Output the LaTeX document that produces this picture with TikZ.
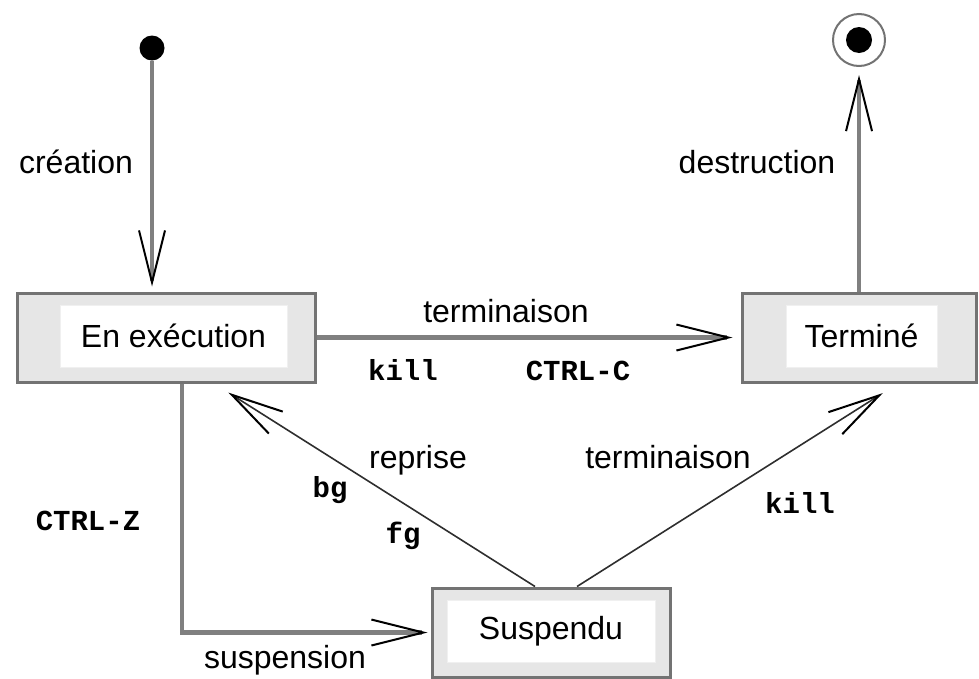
\documentclass[tikz,border=0pt]{standalone}
\usepackage{fontspec}
\setmainfont{Liberation Sans}
\setmonofont{Liberation Mono}
\usetikzlibrary{arrows.meta}
\definecolor{boxgray}{HTML}{E6E6E6}
\definecolor{edgegray}{HTML}{737373}
\definecolor{linegray}{HTML}{808080}
\definecolor{diaggray}{HTML}{2E2E2E}

\begin{document}
\begin{tikzpicture}[x=1pt,y=-1pt,font=\fontsize{32}{38}\selectfont,
  etat/.style={draw=edgegray,fill=boxgray,line width=3pt,minimum height=89pt},
  etiq/.style={fill=white,draw=white!94!black,line width=1pt,minimum height=62pt,inner sep=0pt},
  lab/.style={anchor=base},
  code/.style={anchor=base,font=\fontsize{29}{34}\selectfont\ttfamily\bfseries},
  barb/.style={-{Straight Barb[length=52pt,width=26pt,line width=2pt,color=black]}},
  fleche/.style={draw=linegray,line width=4.5pt,barb},
  fine/.style={draw=diaggray,line width=1.6pt,barb}]
\useasboundingbox (0,0) rectangle (979,678);
\node[circle,fill=black,inner sep=0pt,minimum size=25pt] (debut) at (152,48) {};
\node[circle,draw=edgegray,line width=2pt,inner sep=0pt,minimum size=52pt] (fin) at (859,40) {};
\node[circle,fill=black,inner sep=0pt,minimum size=26pt] (finin) at (fin) {};
\node[etat,minimum width=298pt] (exec) at (166,337.5) {};
\node[etiq,minimum width=227pt] (execnom) at (173.5,336) {En exécution};
\node[etat,minimum width=234pt] (term) at (859,337.5) {};
\node[etiq,minimum width=151pt] (termnom) at (861.5,336) {Terminé};
\node[etat,minimum width=238pt] (susp) at (551,632.5) {};
\node[etiq,minimum width=208pt] (suspnom) at (551,631) {Suspendu};
\draw[fleche,shorten >=5pt] (debut) -- (debut |- exec.north);
\draw[fleche,shorten >=8pt] (exec.east) -- (term.west);
\draw[fleche,shorten >=8pt] (term.north) -- (fin.south);
\draw[fleche,shorten >=3pt] ([xshift=16pt]exec.south) |- (susp.west);
\draw[fine,shorten >=17pt] ([xshift=-16pt]susp.north) -- ([xshift=48pt]exec.south);
\draw[fine,shorten >=18pt] ([xshift=26pt]susp.north) -- ([xshift=39pt]term.south);
\node[lab] (creation) at (76,173) {création};
\node[lab] (destruction) at (757,173) {destruction};
\node[lab] (termin) at (506,322) {terminaison};
\node[code] (killa) at (403,380) {kill};
\node[code] (ctrlc) at (578,380) {CTRL-C};
\node[code] (ctrlz) at (88,530) {CTRL-Z};
\node[lab] (suspension) at (285,668) {suspension};
\node[lab] (reprise) at (418,468) {reprise};
\node[code] (bg) at (330,497) {bg};
\node[code] (fg) at (403,543) {fg};
\node[lab] (terminb) at (668,468) {terminaison};
\node[code] (killb) at (800,513) {kill};
\end{tikzpicture}
\end{document}
